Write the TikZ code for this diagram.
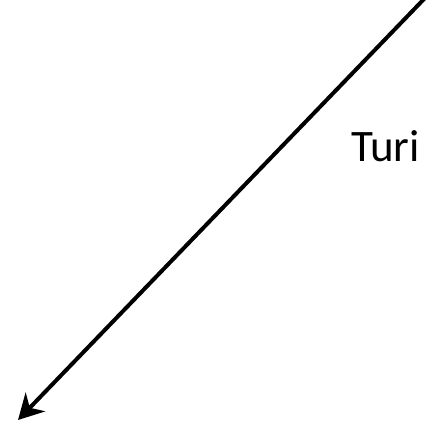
\documentclass[tikz,border=0pt]{standalone}
\usepackage{fontspec}
\setmainfont{Carlito}
\usepackage{tikz}
\usetikzlibrary{arrows.meta}

\begin{document}
\begin{tikzpicture}[x=1pt,y=1pt,>={Stealth[length=25pt,width=27pt,inset=8pt]}]
\useasboundingbox (0,0) rectangle (426,425);
\coordinate (ln_top) at (425,427);
\coordinate (ln_tip) at (18,5);
\node[anchor=base west,inner sep=0pt,font=\fontsize{45}{54}\selectfont] (lbl) at (351,263) {Turi};
\draw[line width=4pt,->] (ln_top)--(ln_tip);
\end{tikzpicture}
\end{document}
